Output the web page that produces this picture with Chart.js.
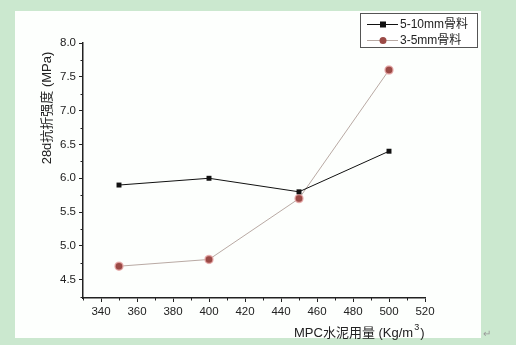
<!DOCTYPE html>
<html>
<head>
<meta charset="utf-8">
<script src="https://cdn.jsdelivr.net/npm/chart.js@4"></script>
<style>
  html, body { margin: 0; padding: 0; background: #cbe8cf; }
  #wrap { width: 516px; height: 345px; }
</style>
</head>
<body>
<div id="wrap"><canvas id="chart" width="516" height="345"></canvas></div>
<script>
(function(){
  'use strict';

  // cement dosage (kg/m3) and 28d flexural strength (MPa)
  const dosage = [350, 400, 450, 500];
  const coarse = [5.9, 6.0, 5.8, 6.4];   // 5-10mm aggregate
  const fine = [4.7, 4.8, 5.7, 7.6];     // 3-5mm aggregate

  const xTicks = [340, 360, 380, 400, 420, 440, 460, 480, 500, 520];
  const xMinor = [330, 350, 370, 390, 410, 430, 450, 470, 490, 510];
  const yTicks = [4.5, 5.0, 5.5, 6.0, 6.5, 7.0, 7.5, 8.0];
  const yMinor = [4.25, 4.75, 5.25, 5.75, 6.25, 6.75, 7.25, 7.75];

  const FONT = '"Liberation Sans", Arial, "Noto Sans CJK SC", sans-serif';
  const INK = '#222';

  // white sheet behind the plot
  const sheet = {
    id: 'sheet',
    beforeDraw(chart) {
      const c = chart.ctx;
      c.save();
      c.fillStyle = '#cbe8cf';
      c.fillRect(0, 0, chart.width, chart.height);
      c.fillStyle = '#fdfffd';
      c.fillRect(15, 11, 466, 327);
      c.restore();
    }
  };

  // minor ticks, axis titles and the boxed legend
  const extras = {
    id: 'extras',
    afterDraw(chart) {
      const c = chart.ctx;
      const xs = chart.scales.x, ys = chart.scales.y;
      const a = chart.chartArea;
      c.save();
      c.strokeStyle = INK;
      c.lineWidth = 1;
      c.beginPath();
      yMinor.forEach(v => {
        const y = Math.round(ys.getPixelForValue(v)) + 0.5;
        c.moveTo(a.left - 2.5, y); c.lineTo(a.left, y);
      });
      xMinor.forEach(v => {
        const x = Math.round(xs.getPixelForValue(v)) + 0.5;
        c.moveTo(x, a.bottom); c.lineTo(x, a.bottom + 2.5);
      });
      c.stroke();

      // y title
      c.fillStyle = INK;
      c.font = '13px ' + FONT;
      c.save();
      c.translate(47, 108);
      c.rotate(-Math.PI / 2);
      c.textAlign = 'center';
      c.textBaseline = 'middle';
      c.fillText('28d抗折强度 (MPa)', 0, 0);
      c.restore();

      // x title with superscript
      c.textBaseline = 'middle';
      c.textAlign = 'left';
      let tx = 294;
      const ty = 333;
      const head = 'MPC水泥用量 (Kg/m';
      c.fillText(head, tx, ty);
      tx += c.measureText(head).width + 1;
      c.font = '9px ' + FONT;
      c.fillText('3', tx, ty - 5);
      tx += c.measureText('3').width + 1;
      c.font = '13px ' + FONT;
      c.fillText(')', tx, ty);

      // legend
      c.fillStyle = '#fff';
      c.fillRect(360.5, 13.5, 117, 34);
      c.strokeStyle = '#555';
      c.strokeRect(360.5, 13.5, 117, 34);
      c.font = '12px ' + FONT;
      chart.data.datasets.forEach((ds, i) => {
        const y = 24 + i * 16;
        c.strokeStyle = ds.borderColor;
        c.lineWidth = ds.borderWidth;
        c.beginPath();
        c.moveTo(367, y + 0.5); c.lineTo(398, y + 0.5);
        c.stroke();
        c.fillStyle = ds.pointBackgroundColor;
        if (ds.pointStyle === 'rect') {
          c.fillRect(380, y - 2.5, 6, 6);
        } else {
          c.beginPath();
          c.arc(383, y + 0.5, 3.5, 0, Math.PI * 2);
          c.fill();
        }
        c.fillStyle = INK;
        c.textAlign = 'left';
        c.fillText(ds.label, 400, y + 1);
      });

      // paragraph mark
      c.fillStyle = '#999';
      c.font = '10px ' + FONT;
      c.fillText('↵', 483, 334);
      c.restore();
    }
  };

  new Chart(document.getElementById('chart'), {
    type: 'line',
    data: {
      labels: dosage,
      datasets: [{
        label: '5-10mm骨料',
        data: dosage.map((x, i) => ({ x: x, y: coarse[i] })),
        borderColor: '#111',
        borderWidth: 1,
        pointStyle: 'rect',
        pointRadius: 3.5,
        pointBackgroundColor: '#111',
        pointBorderColor: '#111',
        pointBorderWidth: 0
      }, {
        label: '3-5mm骨料',
        data: dosage.map((x, i) => ({ x: x, y: fine[i] })),
        borderColor: '#b9aaa4',
        borderWidth: 1,
        pointStyle: 'circle',
        pointRadius: 4,
        pointBackgroundColor: '#9b4a46',
        pointBorderColor: 'rgba(232,170,170,0.8)',
        pointBorderWidth: 1.5
      }]
    },
    options: {
      responsive: false,
      animation: false,
      layout: { padding: { left: 0, top: 43, right: 91, bottom: 0 } },
      plugins: { legend: { display: false }, tooltip: { enabled: false } },
      scales: {
        x: {
          type: 'linear',
          min: 330,
          max: 520,
          afterBuildTicks: s => { s.ticks = xTicks.map(v => ({ value: v })); },
          afterFit: s => { s.height = 47; s.paddingLeft = 0; s.paddingRight = 0; },
          grid: { drawOnChartArea: false, drawTicks: true, tickLength: 4, tickColor: INK },
          border: { display: true, color: INK, width: 1.5 },
          ticks: { color: INK, font: { family: FONT, size: 11.5 }, padding: 3, maxRotation: 0, autoSkip: false }
        },
        y: {
          min: 4.23,
          max: 8.0,
          afterBuildTicks: s => { s.ticks = yTicks.map(v => ({ value: v })); },
          afterFit: s => { s.width = 83; s.paddingTop = 0; s.paddingBottom = 0; },
          grid: { drawOnChartArea: false, drawTicks: true, tickLength: 4, tickColor: INK },
          border: { display: true, color: INK, width: 1.5 },
          ticks: { color: INK, font: { family: FONT, size: 11.5 }, padding: 3, callback: v => v.toFixed(1) }
        }
      }
    },
    plugins: [sheet, extras]
  });
})();
</script>
</body>
</html>
